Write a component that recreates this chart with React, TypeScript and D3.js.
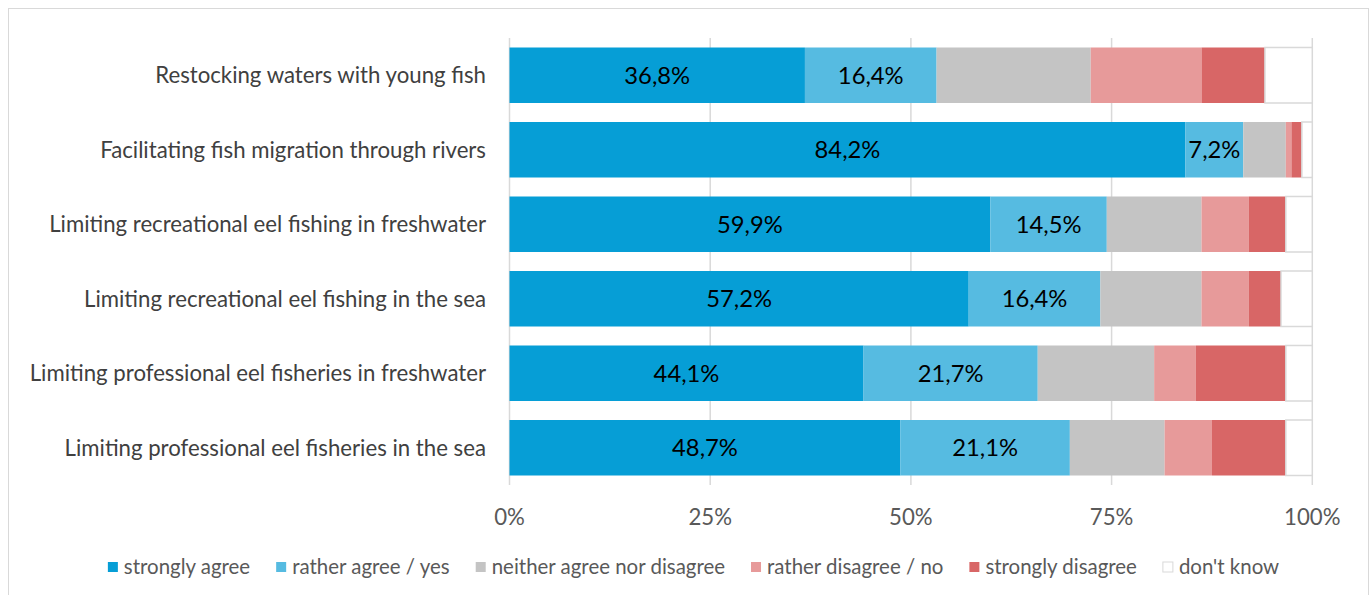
import React, { useEffect, useRef } from "react";
import * as d3 from "d3";

const categories = [
  "Restocking waters with young fish",
  "Facilitating fish migration through rivers",
  "Limiting recreational eel fishing in freshwater",
  "Limiting recreational eel fishing in the sea",
  "Limiting professional eel fisheries in freshwater",
  "Limiting professional eel fisheries in the sea",
];
const seriesNames = [
  "strongly agree",
  "rather agree / yes",
  "neither agree nor disagree",
  "rather disagree / no",
  "strongly disagree",
  "don't know",
];
const stronglyAgree = [36.8, 84.2, 59.9, 57.2, 44.1, 48.7];
const ratherAgree = [16.4, 7.2, 14.5, 16.4, 21.7, 21.1];
const neither = [19.2, 5.3, 11.8, 12.6, 14.5, 11.8];
const ratherDisagree = [13.8, 0.7, 5.9, 5.9, 5.2, 5.9];
const stronglyDisagree = [7.9, 1.3, 4.6, 4.0, 11.2, 9.2];
const dontKnow = [5.9, 1.3, 3.3, 3.9, 3.3, 3.3];
const tickValues = [0, 25, 50, 75, 100];
const labeledSeries = [0, 1];

const colors = ["#069ed6", "#56bbe1", "#c4c4c4", "#e79a9a", "#d86666", "#ffffff"];
const FONT = "Lato, 'Open Sans', sans-serif";

export default function App() {
  const ref = useRef<SVGSVGElement>(null);

  useEffect(() => {
    const svg = d3.select(ref.current);
    svg.selectAll("*").remove();
    const m = { left: 509.5, right: 1312.3, top: 38, bottom: 485 };

    const series = [stronglyAgree, ratherAgree, neither, ratherDisagree, stronglyDisagree, dontKnow];
    const rows = categories.map((c, i) => {
      const o: any = { cat: c };
      seriesNames.forEach((s, k) => (o[s] = series[k][i]));
      return o;
    });
    const stacked = d3.stack<any>().keys(seriesNames)(rows);

    const x = d3.scaleLinear().domain([0, 100]).range([m.left, m.right]);
    const y = d3.scaleBand().domain(categories).range([m.top, m.bottom]).paddingInner(0.255).paddingOuter(0.1275);

    // calibrate font size
    const probe = svg.append("text").attr("font-family", FONT).attr("font-size", 20).text(categories[0]);
    const w20 = (probe.node() as SVGTextElement).getComputedTextLength();
    probe.remove();
    const fs = (20 * 331) / w20;

    svg.append("rect").attr("x", 8.5).attr("y", 8.5).attr("width", 1360).attr("height", 600)
      .attr("fill", "#fff").attr("stroke", "#d9d9d9").attr("stroke-width", 1);

    // gridlines
    svg.append("g").selectAll("line").data(tickValues).join("line")
      .attr("x1", (d) => x(d)).attr("x2", (d) => x(d))
      .attr("y1", m.top).attr("y2", m.bottom)
      .attr("stroke", "#d9d9d9").attr("stroke-width", 1.5);

    // bars
    const g = svg.append("g");
    stacked.forEach((layer, k) => {
      g.append("g").selectAll("rect").data(layer).join("rect")
        .attr("x", (d) => x(d[0]))
        .attr("width", (d) => x(d[1]) - x(d[0]))
        .attr("y", (d) => y(d.data.cat)!)
        .attr("height", y.bandwidth())
        .attr("fill", colors[k])
        .attr("stroke", k === 5 ? "#d9d9d9" : "none")
        .attr("stroke-width", k === 5 ? 1.5 : 0);
    });

    // data labels
    const fmt = (v: number) => d3.format(".1f")(v).replace(".", ",") + "%";
    labeledSeries.forEach((k) => {
      g.append("g").selectAll("text").data(stacked[k]).join("text")
        .attr("x", (d) => (x(d[0]) + x(d[1])) / 2)
        .attr("y", (d) => y(d.data.cat)! + y.bandwidth() / 2)
        .attr("dy", "0.35em")
        .attr("text-anchor", "middle")
        .attr("font-family", FONT).attr("font-size", fs * 1.07)
        .attr("fill", "#000")
        .text((d) => fmt(d.data[seriesNames[k]]));
    });

    // category labels
    svg.append("g").selectAll("text").data(categories).join("text")
      .attr("x", 486)
      .attr("y", (d) => y(d)! + y.bandwidth() / 2)
      .attr("dy", "0.35em")
      .attr("text-anchor", "end")
      .attr("font-family", FONT).attr("font-size", fs)
      .attr("fill", "#404040")
      .text((d) => d);

    // tick labels
    svg.append("g").selectAll("text").data(tickValues).join("text")
      .attr("x", (d) => x(d)).attr("y", 517).attr("dy", "0.35em")
      .attr("text-anchor", "middle")
      .attr("font-family", FONT).attr("font-size", fs)
      .attr("fill", "#595959")
      .text((d) => d + "%");

    // legend
    const lg = svg.append("g");
    const items = seriesNames.map((s, k) => {
      const it = lg.append("g");
      it.append("rect").attr("x", 0).attr("y", -5).attr("width", 10).attr("height", 10)
        .attr("fill", colors[k]).attr("stroke", k === 5 ? "#d9d9d9" : "none");
      const t = it.append("text").attr("x", 16).attr("dy", "0.35em")
        .attr("font-family", FONT).attr("font-size", fs * 0.92).attr("fill", "#595959").text(s);
      const tw = (t.node() as SVGTextElement).getComputedTextLength();
      return { it, w: 16 + tw };
    });
    const gap = 26;
    const total = d3.sum(items, (d) => d.w) + gap * (items.length - 1);
    let cx = 693.5 - total / 2;
    items.forEach((d) => {
      d.it.attr("transform", `translate(${cx},567)`);
      cx += d.w + gap;
    });
  }, []);

  return (
    <div style={{ position: "absolute", left: 0, top: 0 }}>
      <svg ref={ref} width={1372} height={595} style={{ display: "block" }} />
    </div>
  );
}
